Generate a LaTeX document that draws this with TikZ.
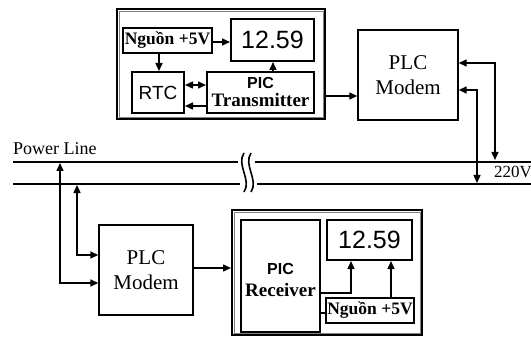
\documentclass[tikz,border=0pt]{standalone}
\usepackage{fontspec}
\setmainfont{Liberation Serif}
\newfontfamily\arialfont{Liberation Sans}
\usetikzlibrary{arrows.meta}
\begin{document}
\begin{tikzpicture}[x=1pt,y=-1pt,
  box/.style={draw=black,line width=2pt,fill=white,inner sep=0pt,align=center},
  frame/.style={draw=black,line width=2pt,inner sep=0pt},
  modem/.style={draw=black,line width=1.4pt,inner sep=0pt,align=center,
    font=\fontsize{21}{25}\selectfont},
  arr/.style={line width=1.5pt,-{Triangle[length=8pt,width=7pt]}},
  darr/.style={line width=1.5pt,{Triangle[length=8pt,width=7pt]}-{Triangle[length=8pt,width=7pt]}},
  pline/.style={line width=1.8pt},
  bserif/.style={font=\fontsize{17.5}{20}\selectfont\bfseries},
  disp/.style={box,font=\arialfont\fontsize{25}{25}\selectfont},
  pic/.style={box,font=\fontsize{19}{21}\selectfont}
]
\useasboundingbox (0,0) rectangle (531,337);

% ---------- top station ----------
\node[frame,minimum width=208pt,minimum height=110pt] (outerT) at (221,64) {};
\draw[gray,line width=0.6pt] ([shift={(3,3)}]outerT.north west) rectangle ([shift={(-3,-3)}]outerT.south east);
\node[box,bserif,minimum width=89pt,minimum height=25pt] (ngT) at (167.5,40.5) {Nguồn +5V};
\node[disp,minimum width=83pt,minimum height=42pt] (dispT) at (272.5,40) {12.59};
\node[box,font=\arialfont\fontsize{19}{19}\selectfont,minimum width=52pt,minimum height=41pt] (rtc) at (158,92.5) {RTC};
\node[pic,minimum width=107pt,minimum height=41pt] (picT) at (260.5,92.5)
  {{\arialfont\bfseries\fontsize{16}{18}\selectfont PIC}\\[-3pt]{\bfseries Transmitter}};

\node[modem,minimum width=100pt,minimum height=90pt] (plcT) at (408,75) {PLC\\Modem};

% ---------- power line ----------
\node[anchor=base west,font=\fontsize{18}{18}\selectfont,inner sep=0pt] (pl) at (13,155) {Power Line};
\node[anchor=base west,font=\fontsize{17}{17}\selectfont,inner sep=0pt] (v220) at (494,178) {220V};
\coordinate (uL) at (13,162);
\coordinate (uM1) at (238,162);
\coordinate (uM2) at (255,162);
\coordinate (uR) at (531,162);
\coordinate (lL) at (13,184);
\coordinate (lM1) at (240,184);
\coordinate (lM2) at (257,184);
\coordinate (lR) at (531,184);
\draw[pline] (uL) -- (uM1) (uM2) -- (uR);
\draw[pline] (lL) -- (lM1) (lM2) -- (lR);
\coordinate (b1s) at (244,153);
\coordinate (b1e) at (244,192);
\coordinate (b2s) at (251,153);
\coordinate (b2e) at (251,192);
\draw[line width=1.6pt] (b1s) .. controls (236,165) and (252,180) .. (b1e);
\draw[line width=1.6pt] (b2s) .. controls (243,165) and (259,180) .. (b2e);

% ---------- bottom station ----------
\node[modem,minimum width=94pt,minimum height=90pt] (plcB) at (146,270) {PLC\\Modem};
\node[frame,minimum width=190pt,minimum height=125pt] (outerB) at (327,272.5) {};
\draw[gray,line width=0.6pt] ([shift={(3,3)}]outerB.north west) rectangle ([shift={(-3,-3)}]outerB.south east);
\node[pic,minimum width=79pt,minimum height=112pt] (picR) at (280.5,276) {};
\node[font=\fontsize{19}{21}\selectfont,align=center,inner sep=0pt] (picRt) at (280.5,280)
  {{\arialfont\bfseries\fontsize{16}{18}\selectfont PIC}\\[1pt]{\bfseries Receiver}};
\node[disp,minimum width=85pt,minimum height=40pt] (dispB) at (369.5,240) {12.59};
\node[box,bserif,minimum width=88pt,minimum height=25pt] (ngB) at (370,310.5) {Nguồn +5V};

% ---------- connectors top ----------
\draw[arr] (ngT.east |- 0,42) -- (dispT.west |- 0,42);
\draw[arr] (ngT.south -| 159,0) -- (rtc.north -| 159,0);
\draw[arr] (picT.north -| 273,0) -- (dispT.south -| 273,0);
\draw[darr] (rtc.east |- 0,85) -- (picT.west |- 0,85);
\draw[arr] (picT.west |- 0,106) -- (rtc.east |- 0,106);
\draw[arr] (outerT.east |- 0,96) -- (plcT.west |- 0,96);
\coordinate (tA) at (495,63);
\coordinate (tB) at (477,90);
\draw[darr] (plcT.east |- tA) -- (tA) -- (495,160);
\draw[darr] (plcT.east |- tB) -- (tB) -- (477,183);

% ---------- connectors bottom ----------
\coordinate (bA) at (60,283);
\coordinate (bB) at (77,255);
\draw[darr] (60,163) -- (bA) -- (plcB.west |- bA);
\draw[darr] (77,185) -- (bB) -- (plcB.west |- bB);
\draw[arr] (plcB.east |- 0,268) -- (outerB.west |- 0,268);
\coordinate (rc) at (351,293);
\draw[arr] (picR.east |- rc) -- (rc) -- (dispB.south -| rc);
\draw[arr] (ngB.north -| 391,0) -- (dispB.south -| 391,0);
\draw[line width=1.2pt] (picR.east |- 0,313) -- (ngB.west |- 0,313);
\end{tikzpicture}
\end{document}
